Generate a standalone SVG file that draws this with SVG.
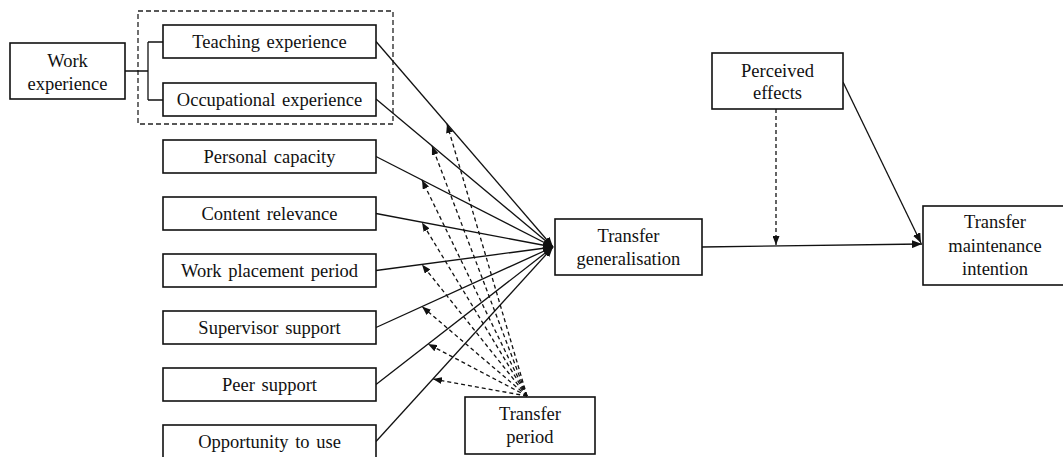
<svg xmlns="http://www.w3.org/2000/svg" width="1063" height="457" viewBox="0 0 1063 457">
<style>
.box{fill:#fff;stroke:#111;stroke-width:1.6}
.t{font-family:'Liberation Serif','DejaVu Serif','Times New Roman',serif;font-size:18.5px;fill:#111;text-anchor:middle;word-spacing:2px}
.s{fill:none;stroke:#111;stroke-width:1.3}
.d{fill:none;stroke:#111;stroke-width:1.3;stroke-dasharray:4 3}
</style>
<defs>
<marker id="ah" markerUnits="userSpaceOnUse" markerWidth="10" markerHeight="8" refX="10" refY="4" orient="auto">
<path d="M0,0 L10,4 L0,8 Z" fill="#111"/>
</marker>
<marker id="ahs" markerUnits="userSpaceOnUse" markerWidth="9" markerHeight="7" refX="9" refY="3.5" orient="auto">
<path d="M0,0 L9,3.5 L0,7 Z" fill="#111"/>
</marker>
</defs>
<rect x="138" y="11" width="255" height="113" fill="none" stroke="#222" stroke-width="1.3" stroke-dasharray="5 3"/>
<g id="connectors">
<path class="s" d="M125,71 H148 M148,42 V100 M148,42 H163 M148,100 H163"/>
<line class="s" x1="376" y1="41.5" x2="553" y2="247" marker-end="url(#ah)"/>
<line class="s" x1="376" y1="99" x2="553" y2="247" marker-end="url(#ah)"/>
<line class="s" x1="376" y1="156.5" x2="553" y2="247" marker-end="url(#ah)"/>
<line class="s" x1="376" y1="213.5" x2="553" y2="247" marker-end="url(#ah)"/>
<line class="s" x1="376" y1="270.5" x2="553" y2="247" marker-end="url(#ah)"/>
<line class="s" x1="376" y1="327.5" x2="553" y2="247" marker-end="url(#ah)"/>
<line class="s" x1="376" y1="384.5" x2="553" y2="247" marker-end="url(#ah)"/>
<line class="s" x1="376" y1="441.5" x2="553" y2="247" marker-end="url(#ah)"/>
<line class="d" x1="527" y1="396" x2="447" y2="124" marker-end="url(#ahs)"/>
<line class="d" x1="527" y1="396" x2="432" y2="146" marker-end="url(#ahs)"/>
<line class="d" x1="527" y1="396" x2="422" y2="180" marker-end="url(#ahs)"/>
<line class="d" x1="527" y1="396" x2="422" y2="222.5" marker-end="url(#ahs)"/>
<line class="d" x1="527" y1="396" x2="422" y2="264.5" marker-end="url(#ahs)"/>
<line class="d" x1="527" y1="396" x2="422" y2="306.5" marker-end="url(#ahs)"/>
<line class="d" x1="527" y1="396" x2="428" y2="344" marker-end="url(#ahs)"/>
<line class="d" x1="527" y1="396" x2="433" y2="379" marker-end="url(#ahs)"/>
<line class="s" x1="702" y1="247" x2="922" y2="244" marker-end="url(#ah)"/>
<line class="s" x1="843" y1="82" x2="921" y2="243" marker-end="url(#ah)"/>
<line class="d" x1="776" y1="109" x2="776" y2="245" marker-end="url(#ahs)"/>
</g>
<g id="work-experience"><rect class="box" x="10" y="43" width="115" height="56"/><text class="t" x="67.5" y="67">Work</text><text class="t" x="67.5" y="90">experience</text></g>
<g id="teaching-experience"><rect class="box" x="163" y="25" width="213" height="33"/><text class="t" x="269.5" y="48">Teaching experience</text></g>
<g id="occupational-experience"><rect class="box" x="163" y="83" width="213" height="33"/><text class="t" x="269.5" y="106">Occupational experience</text></g>
<g id="personal-capacity"><rect class="box" x="163" y="140" width="213" height="33"/><text class="t" x="269.5" y="163">Personal capacity</text></g>
<g id="content-relevance"><rect class="box" x="163" y="197" width="213" height="33"/><text class="t" x="269.5" y="220">Content relevance</text></g>
<g id="work-placement-period"><rect class="box" x="163" y="254" width="213" height="33"/><text class="t" x="269.5" y="277">Work placement period</text></g>
<g id="supervisor-support"><rect class="box" x="163" y="311" width="213" height="33"/><text class="t" x="269.5" y="334">Supervisor support</text></g>
<g id="peer-support"><rect class="box" x="163" y="368" width="213" height="33"/><text class="t" x="269.5" y="391">Peer support</text></g>
<g id="opportunity-to-use"><rect class="box" x="163" y="425" width="213" height="40"/><text class="t" x="269.5" y="448">Opportunity to use</text></g>
<g id="transfer-generalisation"><rect class="box" x="555" y="219" width="147" height="56"/><text class="t" x="628.5" y="242">Transfer</text><text class="t" x="628.5" y="265">generalisation</text></g>
<g id="transfer-period"><rect class="box" x="465" y="397" width="130" height="57"/><text class="t" x="530" y="420">Transfer</text><text class="t" x="530" y="443">period</text></g>
<g id="perceived-effects"><rect class="box" x="712" y="53" width="131" height="56"/><text class="t" x="777.5" y="77">Perceived</text><text class="t" x="777.5" y="99">effects</text></g>
<g id="transfer-maintenance-intention"><rect class="box" x="923" y="206" width="142" height="79"/><text class="t" x="995" y="228">Transfer</text><text class="t" x="995" y="252">maintenance</text><text class="t" x="995" y="275">intention</text></g>
</svg>
